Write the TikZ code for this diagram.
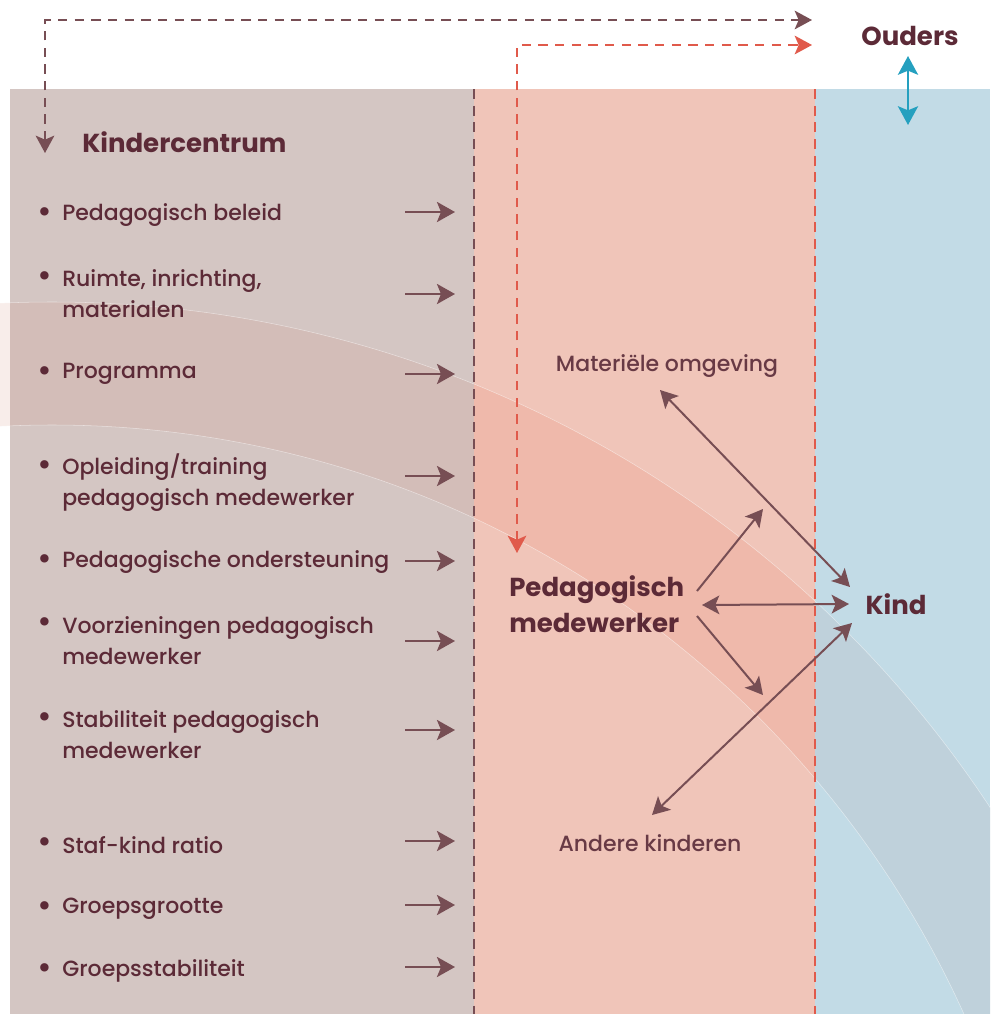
\documentclass[tikz,border=0pt]{standalone}
\usepackage{fontspec}
\setmainfont{Poppins}[UprightFont={* Medium},BoldFont={* Bold}]
\usetikzlibrary{arrows.meta}
\definecolor{txtc}{HTML}{5C2A37}
\definecolor{txtl}{HTML}{683A45}
\definecolor{mauvec}{HTML}{774E54}
\definecolor{redc}{HTML}{E05A4B}
\definecolor{tealc}{HTML}{25A0BF}
\definecolor{leftp}{HTML}{D4C6C3}
\definecolor{midp}{HTML}{F0C5B9}
\definecolor{rightp}{HTML}{C2DBE6}
\definecolor{bandw}{HTML}{F8EDEA}
\definecolor{bandl}{HTML}{D3BDB8}
\definecolor{bandm}{HTML}{EFB9AB}
\definecolor{bandr}{HTML}{BFD1DB}
\newcommand{\bodyf}{\fontsize{16.5}{23.25}\selectfont}
\newcommand{\headf}{\fontsize{19.5}{27}\selectfont\bfseries}
\tikzset{
  item/.style={anchor=west, align=left, text=txtc, font=\bodyf, inner sep=0pt},
  bul/.style={text=txtc, font=\fontsize{24}{24}\selectfont, inner sep=0pt},
  head/.style={text=txtc, font=\headf, inner sep=0pt},
  lab/.style={text=txtl, font=\bodyf, inner sep=0pt},
  arrl/.style={draw=mauvec, line width=2.1pt, -{Stealth[length=13.5pt,width=15pt,inset=3pt]}},
  arrm/.style={draw=mauvec, line width=1.5pt, -{Stealth[length=13pt,width=14pt,inset=3pt]}},
  arrmm/.style={draw=mauvec, line width=1.5pt, {Stealth[length=13pt,width=14pt,inset=3pt]}-{Stealth[length=13pt,width=14pt,inset=3pt]}},
  dashm/.style={draw=mauvec, line width=1.5pt, dash pattern=on 7pt off 5.5pt},
  dashr/.style={draw=redc, line width=1.5pt, dash pattern=on 7pt off 5.5pt},
  band/.style={even odd rule},
}
\begin{document}
\begin{tikzpicture}[x=0.75pt,y=-0.75pt]
\useasboundingbox (0,0) rectangle (990,1014);
% panels
\fill[leftp] (10,89) rectangle (474,1014);
\fill[midp] (474,89) rectangle (815,1014);
\fill[rightp] (815,89) rectangle (990,1014);
% curved band
\def\bandpath{(52,1425) circle[radius=1123] (52,1425) circle[radius=1000]}
\begin{scope}
  \clip (0,89) rectangle (10,1014);
  \fill[bandw,band] \bandpath;
\end{scope}
\begin{scope}
  \clip (10,89) rectangle (474,1014);
  \fill[bandl,band] \bandpath;
\end{scope}
\begin{scope}
  \clip (474,89) rectangle (815,1014);
  \fill[bandm,band] \bandpath;
\end{scope}
\begin{scope}
  \clip (815,89) rectangle (990,1014);
  \fill[bandr,band] \bandpath;
\end{scope}
\begin{scope}
  \clip (0,89) rectangle (990,1014);
  \draw[white, opacity=0.5, line width=0.4pt] \bandpath;
\end{scope}
% separators
\draw[dashm, dash pattern=on 7.5pt off 5pt] (474,89) -- (474,1014);
\draw[dashr, dash pattern=on 7.5pt off 5pt] (815,89) -- (815,1014);

% headings
\node[head, anchor=west] (kc) at (82,142) {Kindercentrum};
\node[head] (ouders) at (910,36) {Ouders};
\node[head] (kind) at (896,604) {Kind};
\node[head, anchor=west, align=left] (pm) at (509,604) {Pedagogisch\\medewerker};
\node[lab] (mat) at (667,366) {Materiële omgeving};
\node[lab] (ak) at (650,843) {Andere kinderen};

% items
\node[item] (i1) at (62,215) {Pedagogisch beleid};
\node[item] (i2) at (62,294) {Ruimte, inrichting,\\materialen};
\node[item] (i3) at (62,374) {Programma};
\node[item] (i4) at (62,483) {Opleiding/training\\pedagogisch medewerker};
\node[item] (i5) at (62,562) {Pedagogische ondersteuning};
\node[item] (i6) at (62,641) {Voorzieningen pedagogisch\\medewerker};
\node[item] (i7) at (62,735) {Stabiliteit pedagogisch\\medewerker};
\node[item] (i8) at (62,845) {Staf-kind ratio};
\node[item] (i9) at (62,909) {Groepsgrootte};
\node[item] (i10) at (62,971) {Groepsstabiliteit};
\foreach \y/\n in {213/b1,277/b2,372/b3,466/b4,560/b5,623/b6,718/b7,843/b8,907/b9,969/b10}
  \node[bul] (\n) at (45,\y+2) {•};

% arrow end points
\foreach \y/\n in {212/1,294/2,374/3,476/4,561/5,641/6,730/7,841/8,905/9,967/10}{
  \coordinate (s\n) at (405,\y);
  \coordinate (e\n) at (455,\y);
  \draw[arrl] (s\n) -- (e\n);
}

% top dashed connectors
\coordinate (kcin) at (45,153);
\coordinate (c1) at (45,20);
\coordinate (o1) at (812,20);
\draw[dashm, {Stealth[length=13pt,width=14pt,inset=3pt]}-{Stealth[length=13pt,width=14pt,inset=3pt]}] (kcin) -- (c1) -- (o1);
\coordinate (pmin) at (517,553);
\coordinate (c2) at (517,45);
\coordinate (o2) at (812,45);
\draw[dashr, {Stealth[length=13pt,width=14pt,inset=3pt]}-{Stealth[length=13pt,width=14pt,inset=3pt]}] (pmin) -- (c2) -- (o2);

% parents - child
\coordinate (ou1) at (908,56);
\coordinate (ou2) at (908,125);
\draw[tealc, line width=2.2pt, {Stealth[length=14pt,width=15pt,inset=3pt]}-{Stealth[length=14pt,width=15pt,inset=3pt]}] (ou1) -- (ou2);

% middle interactions
\coordinate (m1) at (660,390);
\coordinate (k1) at (850,587);
\draw[arrmm] (m1) -- (k1);
\coordinate (p1) at (697,591);
\coordinate (q1) at (763,509);
\draw[arrm] (p1) -- (q1);
\coordinate (p2) at (702,605);
\coordinate (k2) at (849,604);
\draw[arrmm] (p2) -- (k2);
\coordinate (p3) at (697,616);
\coordinate (q3) at (763,695);
\draw[arrm] (p3) -- (q3);
\coordinate (a1) at (652,815);
\coordinate (k3) at (852,623);
\draw[arrmm] (a1) -- (k3);
\end{tikzpicture}
\end{document}
